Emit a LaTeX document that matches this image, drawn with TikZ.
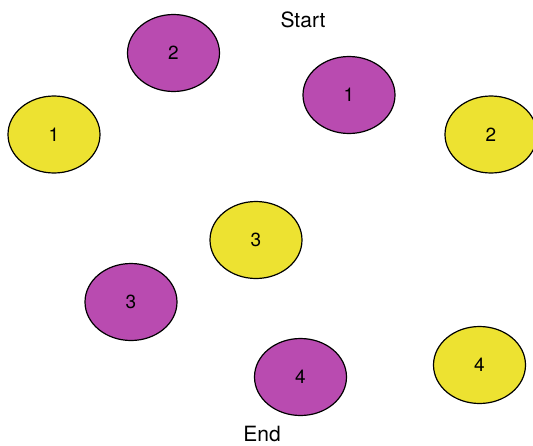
\documentclass[tikz,border=0pt]{standalone}
\usepackage{fontspec}
\setmainfont{TeX Gyre Heros}
\usetikzlibrary{shapes.geometric}

\definecolor{plum}{HTML}{B94BB0}
\definecolor{lemon}{HTML}{EDE231}

\begin{document}
\begin{tikzpicture}[x=1pt, y=-1pt]
        % Ellipse sizes
        \pgfmathsetmacro{\ewidth}{92}
        \pgfmathsetmacro{\eheight}{77}

        \tikzset{
            blob/.style={ellipse, draw=black, line width=1.2pt, inner sep=0pt,
                minimum width=\ewidth pt, minimum height=\eheight pt,
                font=\fontsize{19}{22}\selectfont},
            yellowblob/.style={blob, fill=lemon},
            purpleblob/.style={blob, fill=plum},
            caption/.style={font=\fontsize{21}{24}\selectfont},
        }

        % Fixes the page to the size of the reference
        \useasboundingbox (0, 0) rectangle (533, 445);

        % Labels
        \node[caption] (start) at (303, 20) {Start};
        \node[caption] (finish) at (262, 434) {End};

        % Purple ellipses
        \node[purpleblob] (p1) at (349, 95) {1};
        \node[purpleblob] (p2) at (173.5, 53) {2};
        \node[purpleblob] (p3) at (131, 302) {3};
        \node[purpleblob] (p4) at (300.5, 377) {4};

        % Yellow ellipses
        \node[yellowblob] (y1) at (54, 134.5) {1};
        \node[yellowblob] (y2) at (491, 134.5) {2};
        \node[yellowblob] (y3) at (256, 240) {3};
        \node[yellowblob] (y4) at (479.5, 365) {4};

        \end{tikzpicture}
\end{document}
